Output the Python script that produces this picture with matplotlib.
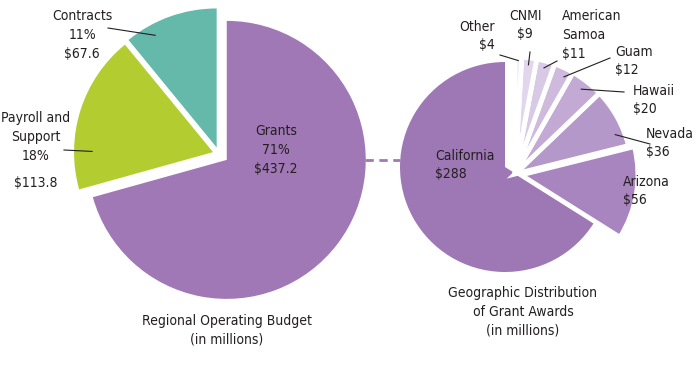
import numpy as np
import matplotlib.pyplot as plt

# =========================
# DATA
# =========================

budget_labels = ["Grants", "Payroll and Support", "Contracts"]
budget_values = [437.2, 113.8, 67.6]
budget_pct = ["71%", "18%", "11%"]
budget_colors = ["#A078B6", "#B3CD31", "#64B9AA"]

grant_labels = ["California", "Arizona", "Nevada", "Hawaii", "Guam",
                "American\nSamoa", "CNMI", "Other"]
grant_values = [288, 56, 36, 20, 12, 11, 9, 4]
grant_colors = ["#9E78B5", "#A985C0", "#B598CA", "#C2AAD4", "#CDBADC",
                "#D8CAE4", "#E1D6EB", "#EEE8F3"]

TXT = "#231F20"
plt.rcParams["font.family"] = ["DejaVu Sans"]
plt.rcParams["font.stretch"] = "condensed"
plt.rcParams["font.size"] = 10
LS = 1.45

fig = plt.figure(figsize=(7, 3.75), dpi=100)
ax = fig.add_axes([0, 0, 1, 1])


def inner_point(w, frac, t=0.5):
    ang = np.deg2rad(w.theta1 + t * (w.theta2 - w.theta1))
    cx, cy = w.center
    return cx + frac * w.r * np.cos(ang), cy + frac * w.r * np.sin(ang)


def leader(w, frac, t, end):
    x0, y0 = inner_point(w, frac, t)
    ax.plot([x0, end[0]], [y0, end[1]], color=TXT, lw=0.8)


# =========================
# LEFT PIE - operating budget
# =========================

r1 = 139
wl, _ = ax.pie(budget_values, colors=budget_colors, startangle=90,
               counterclock=False, center=(219, 221), radius=r1,
               explode=[0.07 * r1, 0.045 * r1, 0.05 * r1],
               wedgeprops=dict(linewidth=0))

ax.text(276, 225, f"{budget_labels[0]}\n{budget_pct[0]}\n${budget_values[0]}",
        ha="center", va="center", linespacing=LS, color=TXT)
ax.text(82, 340, f"{budget_labels[2]}\n{budget_pct[2]}\n${budget_values[2]}",
        ha="center", va="center", linespacing=LS, color=TXT)
ax.text(36, 238, "Payroll and\nSupport\n" + budget_pct[1],
        ha="center", va="center", linespacing=LS, color=TXT)
ax.text(36, 192, f"${budget_values[1]}", ha="center", va="center", color=TXT)
leader(wl[2], 0.92, 0.73, (108, 347))
leader(wl[1], 0.87, 0.76, (64, 225))

ax.text(227, 45, "Regional Operating Budget\n(in millions)",
        ha="center", va="center", linespacing=LS, color=TXT)

# connector
ax.plot([365, 400], [215, 215], color="#A078B6", lw=2, ls=(0, (3, 2)))

# =========================
# RIGHT PIE - grant awards
# =========================

r2a, r2b = 105, 117
wa, _ = ax.pie(grant_values, colors=grant_colors, startangle=90,
               center=(505, 208), radius=r2a, wedgeprops=dict(linewidth=0))
for w in wa[1:]:
    w.set_visible(False)

wb, _ = ax.pie(grant_values, colors=grant_colors, startangle=90,
               center=(515, 201), radius=r2b,
               explode=[0, 6, 0, 0, 0, 0, 0, 0],
               wedgeprops=dict(linewidth=3.5, edgecolor="white"))
wb[0].set_visible(False)

ax.text(435, 210, f"{grant_labels[0]}\n${grant_values[0]}",
        ha="left", va="center", linespacing=LS, color=TXT)
ax.text(623, 184, f"{grant_labels[1]}\n${grant_values[1]}",
        ha="left", va="center", linespacing=LS, color=TXT)

right_text = {2: (646, 232, "left"), 3: (633, 275, "left"),
              4: (615, 314, "left"), 5: (562, 340, "left"),
              6: (525, 350, "center"), 7: (495, 339, "right")}
for i, (x, y, ha) in right_text.items():
    ax.text(x, y, f"{grant_labels[i]}\n${grant_values[i]}",
            ha=ha, va="center", linespacing=LS, color=TXT)

leader(wb[2], 0.92, 0.25, (650, 231))
leader(wb[3], 0.92, 0.5, (624, 283))
leader(wb[4], 0.93, 0.3, (610, 317))
leader(wb[5], 0.94, 0.5, (557, 314))
leader(wb[6], 0.94, 0.5, (530, 323))
leader(wb[7], 0.97, 0.5, (500, 320))

ax.text(523, 63, "Geographic Distribution\nof Grant Awards\n(in millions)",
        ha="center", va="center", linespacing=LS, color=TXT)

ax.set_xlim(0, 700)
ax.set_ylim(0, 375)
ax.set_aspect("equal")
ax.axis("off")

fig.savefig("out.png", dpi=100, facecolor="white")
